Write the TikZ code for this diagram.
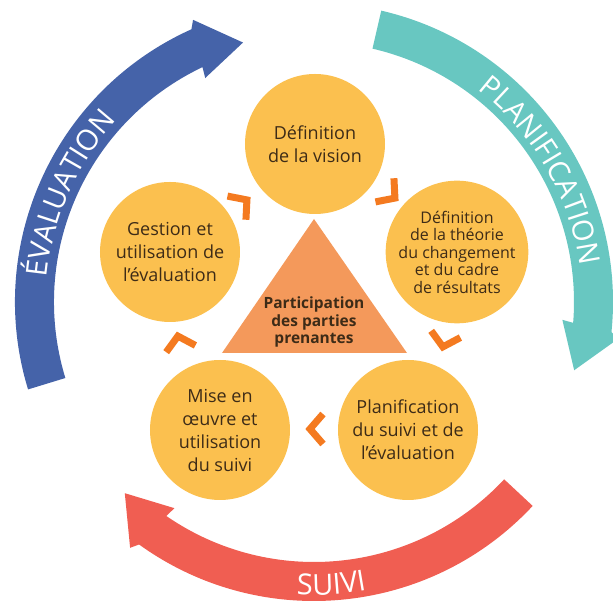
\documentclass[tikz,border=0pt]{standalone}
\usepackage{fontspec}
\setmainfont{Open Sans}
\usetikzlibrary{decorations.text}

\definecolor{ringblue}{HTML}{4563A9}
\definecolor{ringteal}{HTML}{68C7C1}
\definecolor{ringred}{HTML}{F05E52}
\definecolor{stepfill}{HTML}{FBC04F}
\definecolor{hubfill}{HTML}{F4995B}
\definecolor{markorange}{HTML}{F47A20}
\definecolor{inktext}{HTML}{3D2B17}

% one curved band of the outer cycle, ending in an arrow head; #1 = rotation, #2 = colour
\newcommand\cyclearrow[2]{%
  \fill[#2, rotate=#1] (197:299) arc[start angle=197, end angle=114.2, radius=299]
    -- (113.2:307) -- (105.3:269) -- (115.9:249) -- (115.4:260)
    arc[start angle=115.4, end angle=197, radius=260] -- cycle;}
\newcommand\arcfont{\fontsize{29pt}{29pt}\selectfont}

\begin{document}
\begin{tikzpicture}[x=1pt, y=1pt,
  stage/.style={circle, fill=stepfill, minimum size=140pt, inner sep=0pt,
    align=center, text=inktext, font=\fontsize{18pt}{23pt}\selectfont},
  flowmark/.pic={\draw[markorange, line width=7pt] (-8,15) -- (5,0) -- (-8,-15);},
  arclabel/.style={decorate, decoration={text along path, text align=center,
    text color=white, text={|\arcfont|#1}}}
]
\useasboundingbox (-314,-301) rectangle (299,300);
\clip (-314,-301) rectangle (299,300);

% outer cycle: evaluation, planning, monitoring
\begin{scope}[shift={(0,-2)}]
  \cyclearrow{0}{ringblue}
  \cyclearrow{-120}{ringteal}
  \cyclearrow{-240}{ringred}
  \path[arclabel=ÉVALUATION] (197:268) arc[start angle=197, end angle=115, radius=268];
  \path[arclabel=PLANIFICATION] (67:268) arc[start angle=67, end angle=-7, radius=268];
  \path[arclabel=SUIVI] (240:293) arc[start angle=240, end angle=307, radius=293];
\end{scope}

% central triangle
\coordinate (apex) at (0,81);
\coordinate (baseL) at (-92,-53);
\coordinate (baseR) at (93,-53);
\fill[hubfill] (apex) -- (baseR) -- (baseL) -- cycle;
\node[font=\bfseries\fontsize{15.5pt}{17.5pt}\selectfont, text=inktext, align=center]
  (hub) at (0,-22) {Participation\\des parties\\prenantes};

% the five stages
\node[stage] (vision) at (1,156) {Définition\\de la vision};
\node[stage, font=\fontsize{16pt}{17.5pt}\selectfont] (theorie) at (143,48)
  {Définition\\de la théorie\\du changement\\et du cadre\\de résultats};
\node[stage] (plansuivi) at (94,-130) {Planification\\du suivi et de\\l’évaluation};
\node[stage] (miseoeuvre) at (-94,-130) {Mise en\\œuvre et\\utilisation\\du suivi};
\node[stage] (gestion) at (-144,48) {Gestion et\\utilisation de\\l’évaluation};

% chevrons showing the direction of the cycle
\coordinate (m1) at (-71,97);
\coordinate (m2) at (77,105);
\coordinate (m3) at (130,-42);
\coordinate (m4) at (1,-129);
\coordinate (m5) at (-135,-41);
\pic[rotate=38] at (m1) {flowmark};
\pic[rotate=-38] at (m2) {flowmark};
\pic[rotate=-103] at (m3) {flowmark};
\pic[rotate=180] at (m4) {flowmark};
\pic[rotate=103] at (m5) {flowmark};
\end{tikzpicture}
\end{document}
